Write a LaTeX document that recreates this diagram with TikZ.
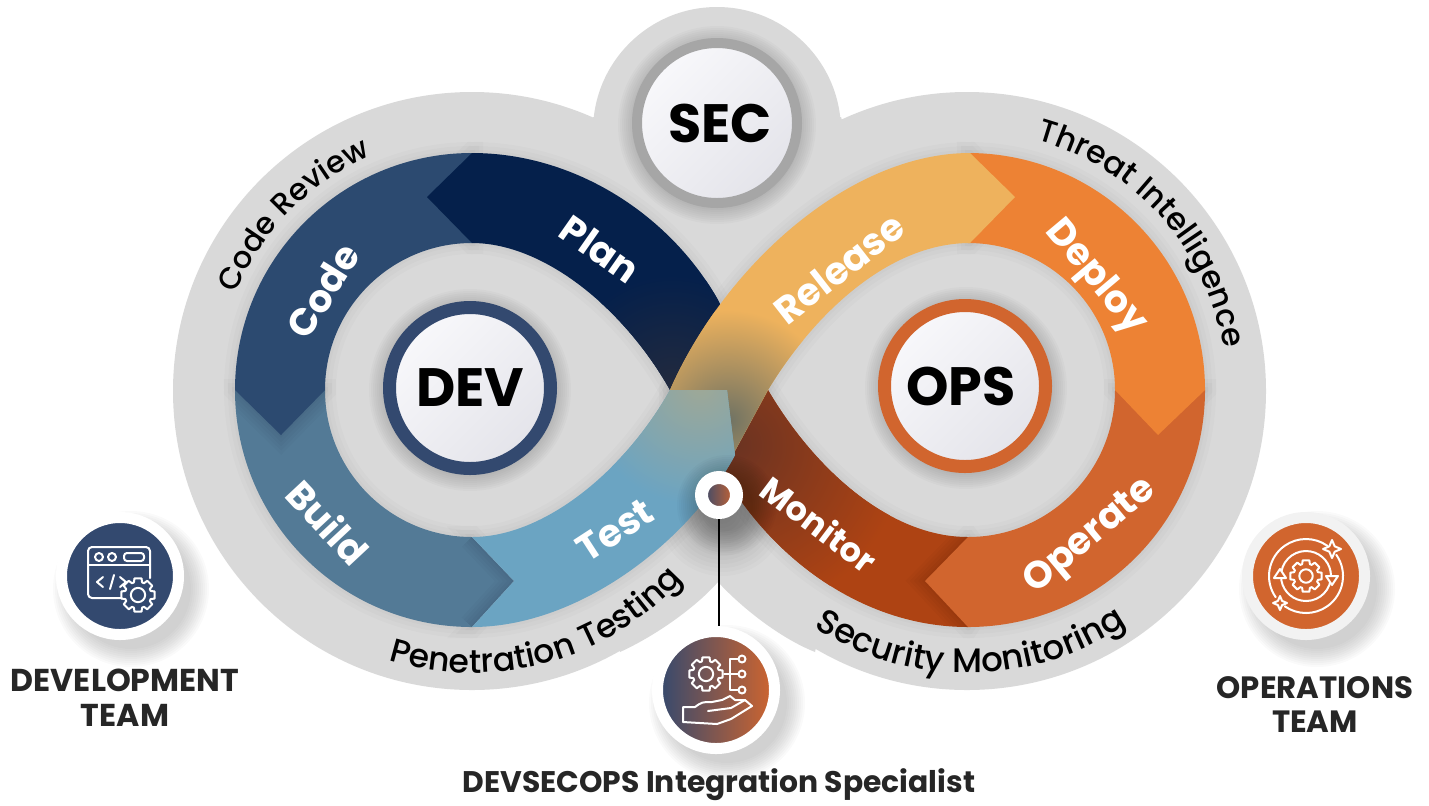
\documentclass[tikz,border=0pt]{standalone}
\usepackage{fontspec}
\setmainfont{Poppins}
\newfontfamily\rimfont{Poppins Medium}
\usetikzlibrary{decorations.text}

\definecolor{blobgray}{HTML}{D9D9D9}
\definecolor{navy}{HTML}{05204B}
\definecolor{navytip}{HTML}{222A3E}
\definecolor{codeblue}{HTML}{2C4A70}
\definecolor{buildblue}{HTML}{537A96}
\definecolor{testblue}{HTML}{6BA4C2}
\definecolor{testtip}{HTML}{9FA896}
\definecolor{relgold}{HTML}{EEB25D}
\definecolor{reltip}{HTML}{6F7263}
\definecolor{deporange}{HTML}{ED8234}
\definecolor{oporange}{HTML}{D1652E}
\definecolor{monrust}{HTML}{AE4313}
\definecolor{montip}{HTML}{6B3322}
\definecolor{devring}{HTML}{33496F}
\definecolor{secring}{HTML}{A6A6A6}
\definecolor{facelight}{HTML}{F8F8FB}
\definecolor{facedark}{HTML}{E4E4EA}

% bands of the loop
\newcommand{\planband}{(740,345) -- (718,300) .. controls (670,215) and (575,153) .. (472,153) -- (427,197) -- (472,243) .. controls (545,243) and (625,310) .. (670,390) -- cycle}
\newcommand{\codeband}{(472,153) arc[start angle=270,end angle=180,radius=237] -- (281,435) -- (325,390) arc[start angle=180,end angle=270,radius=147] -- cycle}
\newcommand{\buildband}{(235,390) arc[start angle=180,end angle=90,radius=237] -- (514,581) -- (472,537) arc[start angle=90,end angle=180,radius=147] -- cycle}
\newcommand{\testband}{(472,627) -- (514,581) -- (472,537) .. controls (545,537) and (625,470) .. (670,390) -- (727,390) -- (735,455) .. controls (690,540) and (580,627) .. (472,627) -- cycle}
\newcommand{\releaseband}{(670,390) .. controls (725,265) and (850,153) .. (970,153) -- (1015,197) -- (970,243) .. controls (885,243) and (810,320) .. (768,390) -- (723,473) -- (670,440) -- cycle}
\newcommand{\deployband}{(968,153) arc[start angle=270,end angle=360,radius=237] -- (1158,435) -- (1115,390) arc[start angle=360,end angle=270,radius=147] -- cycle}
\newcommand{\operateband}{(1205,390) arc[start angle=0,end angle=90,radius=237] -- (925,581) -- (968,537) arc[start angle=90,end angle=0,radius=147] -- cycle}
\newcommand{\monitorband}{(723,473) .. controls (770,555) and (860,627) .. (968,627) -- (1000,580) -- (968,537) .. controls (890,537) and (815,470) .. (768,390) -- cycle}

\newcommand{\softshadow}[4]{\foreach \s in {0,2,...,#4} \fill[black,opacity=.02] (#1,#2) circle ({#3+\s});}
\newcommand{\bandhalo}[1]{\foreach \w in {6,14,22} \draw[black,opacity=.015,line width=\w*.5pt] #1;}
\newcommand{\tipshade}[2]{\begin{scope}
	\clip #1;
	\foreach \w in {4,10,...,28} \draw[black,opacity=.02,line width=\w*.5pt] #2;
\end{scope}}
\newcommand{\gearicon}[4]{\begin{scope}[shift={(#1,#2)}]
	\draw[iconline,fill=#4] (-12:#3) \foreach \a in {0,45,...,315} { -- (\a-12:#3) -- (\a+12:#3) -- (\a+18:{.78*#3}) -- (\a+27:{.78*#3}) } -- cycle;
	\draw[iconline] (0,0) circle ({.42*#3});
\end{scope}}
\newcommand{\sparkle}[3]{\draw[iconline,fill=oporange] (#1,#2-#3) -- (#1+.3*#3,#2-.3*#3) -- (#1+#3,#2) -- (#1+.3*#3,#2+.3*#3) -- (#1,#2+#3) -- (#1-.3*#3,#2+.3*#3) -- (#1-#3,#2) -- (#1-.3*#3,#2-.3*#3) -- cycle;}

\begin{document}
\begin{tikzpicture}[x=.5pt,y=-.5pt]
\tikzset{
	lobe/.style = {circle, inner sep=0pt, minimum size=80.5pt, line width=6.5pt, top color=facelight, bottom color=facedark, shading angle=45, font=\fontsize{27}{30}\selectfont\bfseries},
	badge/.style = {circle, inner sep=0pt, minimum size=58.5pt, line width=5.5pt, draw=white},
	steplabel/.style = {text=white, inner sep=0pt, font=\fontsize{19}{22}\selectfont\bfseries},
	teamlabel/.style = {text=black!85, inner sep=0pt, font=\fontsize{15.8}{18}\selectfont\bfseries},
	iconline/.style = {draw=white, line width=1pt, line join=round, line cap=round},
	stemline/.style = {draw=black, line width=1pt}
}
\useasboundingbox (0,0) rectangle (1429,805);
	% backdrop
	\fill[blobgray] (472,391) circle (299);
	\fill[blobgray] (967,391) circle (299);
	\fill[blobgray] (717,131) circle (124);
	\fill[blobgray] (593,117) -- (841,117) -- (900,300) -- (815,652) .. controls (780,638) and (742,608) .. (718,582) .. controls (695,608) and (655,636) .. (620,652) -- (540,300) -- cycle;
	\foreach \r in {8,12,...,64} \fill[black,opacity=.015] (722,512) circle (\r);
	\bandhalo{\planband}
	\bandhalo{\codeband}
	\bandhalo{\buildband}
	\bandhalo{\testband}
	\bandhalo{\releaseband}
	\bandhalo{\deployband}
	\bandhalo{\operateband}
	\bandhalo{\monitorband}
	% left loop
	\fill[buildblue] \buildband;
	\tipshade{\buildband}{(472,537) -- (514,581) -- (472,627)}
	\tipshade{\buildband}{\codeband}
	\fill[codeblue] \codeband;
	\fill[navy] \planband;
	\begin{scope}
		\clip \planband;
		\shade[inner color=navytip, outer color=navy] (672,385) circle (110);
	\end{scope}
	% right loop
	\fill[monrust] \monitorband;
	\begin{scope}
		\clip \monitorband;
		\shade[inner color=montip, outer color=monrust] (735,445) circle (170);
	\end{scope}
	\tipshade{\monitorband}{\operateband}
	\fill[oporange] \operateband;
	\fill[deporange] \deployband;
	\fill[relgold] \releaseband;
	\begin{scope}
		\clip \releaseband;
		\shade[inner color=reltip, outer color=relgold] (728,420) circle (110);
	\end{scope}
	\fill[testblue] \testband;
	\begin{scope}
		\clip \testband;
		\shade[inner color=testtip, outer color=testblue] (700,385) circle (120);
	\end{scope}
	% dot shadow
	\foreach \r in {26,28,...,50} \fill[black,opacity=.02] (727,505) circle (\r);
	% team circles
	\softshadow{470}{390}{87}{14}
	\softshadow{966}{388}{87}{14}
	\softshadow{717}{125}{85}{14}
	\softshadow{131}{589}{60}{18}
	\softshadow{1317}{589}{60}{18}
	\softshadow{727}{703}{60}{18}
	% vertices
	\node[lobe, draw=devring] (dev) at (470,388) {DEV};
	\node[lobe, draw=oporange] (ops) at (965,386) {OPS\kern4pt};
	\node[lobe, minimum size=80pt, line width=5pt, draw=secring] (sec) at (717,123) {\kern3pt SEC};
	\node[steplabel, rotate=-35] (plan) at (600,249) {Plan};
	\node[steplabel, rotate=58] (code) at (323,291) {Code};
	\node[steplabel, rotate=-47] (build) at (328,522) {Build};
	\node[steplabel, rotate=33] (test) at (615,530) {Test};
	\node[steplabel, rotate=38] (release) at (839,268) {Release};
	\node[steplabel, rotate=-50] (deploy) at (1095,278) {Deploy};
	\node[steplabel, rotate=40] (operate) at (1091,537) {Operate};
	\node[steplabel, rotate=-37, font=\fontsize{16.8}{20}\selectfont\bfseries] (monitor) at (819,524) {Monitor};
	\node[teamlabel] (devteam1) at (125,680) {DEVELOPMENT};
	\node[teamlabel] (devteam2) at (125,715) {TEAM};
	\node[teamlabel, font=\fontsize{15.4}{18}\selectfont\bfseries] (opsteam1) at (1315,688) {OPERATIONS};
	\node[teamlabel, font=\fontsize{15.4}{18}\selectfont\bfseries] (opsteam2) at (1315,722) {TEAM};
	\node[teamlabel, font=\fontsize{14.9}{18}\selectfont\bfseries] (specialist) at (719,785) {DEVSECOPS Integration Specialist};
	\node[circle, inner sep=0pt, minimum size=17.5pt, line width=6.5pt, draw=white, left color=devring, right color=oporange] (dot) at (719,495) {};
	\node[badge, fill=devring] (devbadge) at (120,576) {};
	\node[badge, draw=white!95!black, fill=oporange] (opsbadge) at (1306,576) {};
	\node[badge, left color=devring, right color=oporange] (hub) at (716,690) {};
	% edges
	\draw[stemline] (dot.south) -- (dot.south |- hub.north);
	% text on the rims
	\path[decorate, decoration={text along path, text align=center, text={|\rimfont\fontsize{15.2}{18}\selectfont|Code Review}}] (472,390) ++(169.4:255) arc[start angle=169.4,end angle=279.4,radius=255];
	\path[decorate, decoration={text along path, text align=center, text={|\rimfont\fontsize{15.8}{18}\selectfont|Threat Intelligence}}] (968,390) ++(263:259) arc[start angle=263,end angle=373,radius=259];
	\path[decorate, decoration={text along path, text align=center, text={|\rimfont\fontsize{16.5}{18}\selectfont|Penetration Testing}}] (472,390) ++(130:283) arc[start angle=130,end angle=19,radius=283];
	\path[decorate, decoration={text along path, text align=center, text={|\rimfont\fontsize{17}{18}\selectfont|Security Monitoring}}] (968,390) ++(145:283) arc[start angle=145,end angle=34,radius=283];
	% development icon
	\draw[iconline, rounded corners=2pt] (125,598) -- (88,598) -- (88,547) -- (150,547) -- (150,578);
	\draw[iconline] (88,565) -- (150,565);
	\draw[iconline] (99,557) circle (4);
	\draw[iconline] (112,557) circle (4);
	\draw[iconline, rounded corners=1.5pt] (124,553) rectangle (144,561);
	\draw[iconline] (103,577) -- (97,582) -- (103,587);
	\draw[iconline] (110,589) -- (114,575);
	\draw[iconline] (120,577) -- (126,582) -- (120,587);
	\gearicon{138}{595}{17}{devring}
	% operations icon
	\begin{scope}[shift={(1306,576)}]
		\draw[iconline] (325:37) arc[start angle=325,end angle=485,radius=37];
		\draw[iconline] (145:37) arc[start angle=145,end angle=305,radius=37];
		\draw[iconline] (190:25) arc[start angle=190,end angle=360,radius=25];
		\draw[iconline] (10:25) arc[start angle=10,end angle=180,radius=25];
		\draw[iconline, fill=oporange] (20,0) -- (32,0) -- (26,9) -- cycle;
		\draw[iconline, fill=oporange] (-20,2) -- (-32,2) -- (-26,-7) -- cycle;
		\sparkle{26}{-27}{9}
		\sparkle{-26}{27}{7}
	\end{scope}
	\gearicon{1306}{576}{16}{oporange}
	% specialist icon
	\gearicon{706}{674}{17}{none}
	\draw[iconline] (724,674) -- (738,674);
	\draw[iconline] (738,659) -- (730,659) -- (730,690) -- (738,690);
	\draw[iconline] (742,659) circle (3.5);
	\draw[iconline] (742,674) circle (3.5);
	\draw[iconline] (742,690) circle (3.5);
	\draw[iconline] (683,707) -- (695,707) .. controls (702,702) .. (712,702) -- (722,700) -- (730,696) -- (735,700) -- (745,700) -- (752,706) -- (731,719) -- (717,724) -- (683,722) -- cycle;
	\draw[iconline] (708,711) -- (731,708) -- (745,700);
\end{tikzpicture}
\end{document}
